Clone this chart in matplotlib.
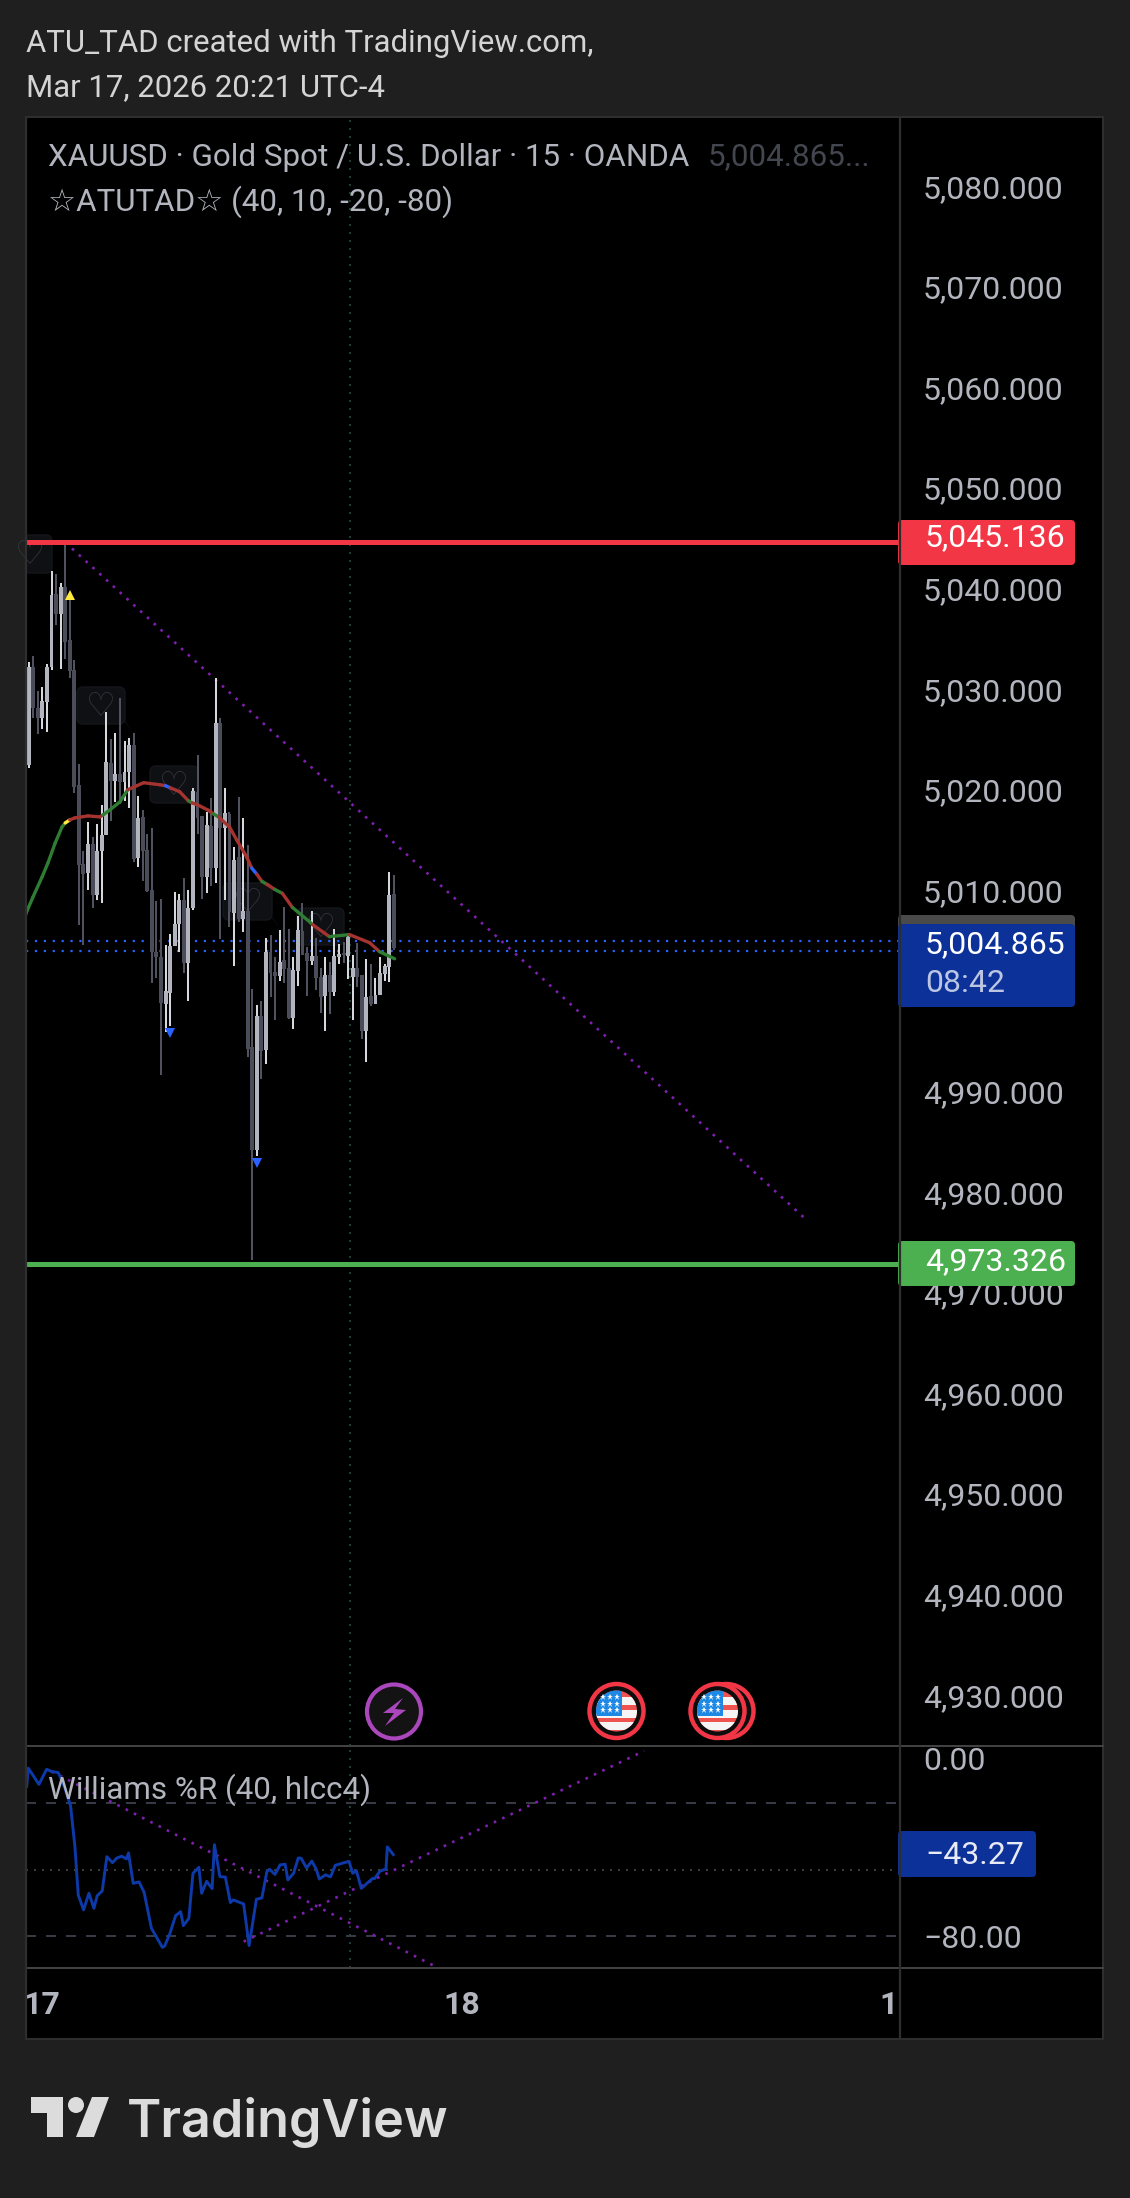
#!/usr/bin/python3
# coding: utf-8

# TradingView screenshot of XAUUSD 15m with a Williams %R pane
import matplotlib
matplotlib.use("Agg")
import matplotlib.pyplot as plt
from matplotlib.patches import Circle, Polygon, FancyBboxPatch, Rectangle
from matplotlib.transforms import ScaledTranslation

plt.rcParams["font.family"] = ["Roboto", "DejaVu Sans"]

# candles, oldest first
opens = [5023.0, 5032.7, 5028.6, 5027.6, 5029.2, 5032.7, 5040.0, 5038.0, 5040.7, 5035.4,
         5032.4, 5021.0, 5013.1, 5012.2, 5015.1, 5010.0, 5014.4, 5016.0, 5023.2, 5021.4,
         5022.1, 5021.3, 5022.3, 5024.9, 5013.7, 5017.8, 5014.5, 5010.5, 5004.4, 5003.9,
         4999.2, 5000.3, 5005.0, 5007.2, 5009.5, 5003.3, 5008.7, 5020.3, 5017.9, 5011.8,
         5016.9, 5012.7, 5027.1, 5016.7, 5018.1, 5008.2, 5013.8, 5007.7, 5008.4, 4994.9,
         4984.7, 4998.0, 4994.6, 5004.4, 5002.4, 5002.0, 5003.6, 5002.8, 4997.8, 5002.5,
         5006.5, 5004.3, 5003.5, 5004.0, 5001.9, 5000.0, 5002.1, 5000.4, 5003.9, 5004.3,
         5004.0, 5001.9, 5002.8, 5002.1, 4996.5, 5000.0, 4999.2, 5000.1, 5002.2, 5002.9,
         5010.1]
highs = [5033.2, 5033.8, 5030.3, 5030.7, 5033.0, 5042.2, 5041.9, 5041.1, 5044.9, 5039.7,
         5033.4, 5023.1, 5014.4, 5017.3, 5015.8, 5017.1, 5019.0, 5028.2, 5025.5, 5026.1,
         5029.6, 5025.3, 5025.6, 5026.1, 5019.9, 5018.5, 5016.1, 5016.7, 5009.4, 5009.6,
         5005.1, 5006.2, 5010.3, 5010.1, 5011.7, 5010.5, 5020.7, 5024.0, 5017.9, 5018.3,
         5019.7, 5031.6, 5027.6, 5020.7, 5018.3, 5014.8, 5019.8, 5017.7, 5015.0, 5000.7,
         4999.1, 4999.5, 5005.8, 5006.1, 5003.9, 5006.6, 5008.8, 5006.7, 5003.9, 5008.0,
         5009.2, 5004.9, 5008.4, 5005.8, 5002.8, 5003.9, 5003.4, 5006.7, 5005.2, 5005.4,
         5006.0, 5004.1, 5005.3, 5002.1, 5003.7, 5003.2, 5001.8, 5003.9, 5003.2, 5012.3,
         5012.0]
lows = [5022.7, 5027.6, 5026.0, 5026.5, 5026.2, 5032.4, 5036.9, 5032.5, 5033.5, 5031.6,
        5020.2, 5007.1, 5005.1, 5010.5, 5008.7, 5009.5, 5009.2, 5016.0, 5017.4, 5019.3,
        5019.1, 5019.4, 5018.7, 5013.3, 5012.8, 5011.4, 5010.3, 5001.3, 5001.8, 4992.1,
        4996.4, 4997.0, 5005.0, 5004.4, 5002.3, 4999.5, 5008.5, 5016.1, 5009.6, 5010.2,
        5010.9, 5011.2, 5005.7, 5009.5, 5006.9, 5003.0, 5007.4, 5006.4, 4993.9, 4973.8,
        4984.1, 4991.7, 4993.2, 4999.9, 4997.6, 5001.5, 5001.3, 4997.7, 4996.7, 5001.0,
        5004.1, 5000.0, 5003.1, 5000.6, 4998.3, 4996.5, 4998.2, 5000.0, 5003.2, 5003.3,
        5001.7, 4997.6, 5000.9, 4995.7, 4993.4, 4999.0, 4999.2, 5000.1, 5001.5, 5001.4,
        5004.6]
closes = [5032.7, 5028.6, 5027.6, 5029.3, 5032.7, 5039.9, 5038.0, 5040.7, 5035.2, 5032.3,
          5020.8, 5013.0, 5012.1, 5015.1, 5010.0, 5014.4, 5016.0, 5023.3, 5021.4, 5022.1,
          5021.3, 5022.3, 5024.9, 5013.6, 5017.7, 5014.4, 5010.4, 5004.4, 5003.9, 4999.3,
          5000.5, 5005.0, 5007.2, 5009.5, 5003.3, 5008.7, 5020.4, 5017.7, 5011.8, 5017.0,
          5012.7, 5027.1, 5016.7, 5018.2, 5008.3, 5013.5, 5007.7, 5008.4, 4994.7, 4984.7,
          4998.0, 4994.5, 5004.4, 5002.3, 5002.0, 5003.4, 5002.7, 4997.8, 5002.6, 5006.6,
          5004.1, 5003.5, 5004.0, 5001.8, 4999.9, 5002.1, 5000.4, 5004.0, 5004.2, 5004.1,
          5005.9, 5002.8, 5001.9, 4996.5, 4999.9, 4999.2, 5000.1, 5002.3, 5003.0, 5010.0,
          5004.8]

# ATUTAD moving average; ma_seg is the colour of the piece ending at that point
ma_bar = [-1.0, -0.6, 0.9, 2.9, 4.2, 5.8, 7.3, 8.0, 9.0, 10.1, 13.0, 15.6, 16.3, 17.8, 20.0,
          21.7, 23.7, 25.2, 28.7, 30.0, 31.0, 33.1, 35.0, 35.8, 37.0, 39.2, 40.5, 41.6, 44.0,
          45.6, 47.8, 48.9, 50.0, 51.1, 52.2, 53.9, 55.6, 57.8, 61.5, 62.2, 65.9, 70.3, 74.7,
          76.9, 80.2]
ma_price = [5007.6, 5008.2, 5009.8, 5011.8, 5013.2, 5015.2, 5016.8, 5017.2, 5017.5, 5017.7,
            5017.9, 5017.8, 5018.0, 5018.5, 5019.3, 5020.5, 5020.9, 5021.2, 5021.0, 5020.9,
            5020.7, 5020.3, 5019.4, 5019.2, 5019.0, 5018.5, 5018.1, 5017.8, 5016.8, 5015.5,
            5013.8, 5012.7, 5012.1, 5011.4, 5011.1, 5010.6, 5010.2, 5008.8, 5007.4, 5007.1,
            5005.9, 5006.1, 5005.3, 5004.4, 5003.7]
ma_seg = ["g", "g", "g", "g", "g", "g", "g", "g", "y", "r", "r", "r", "r", "g", "g",
          "g", "r", "r", "r", "r", "b", "r", "r", "g", "r", "r", "r", "g", "r",
          "r", "r", "r", "b", "r", "g", "r", "g", "r", "g", "g", "r", "g", "r",
          "r", "g"]

# Williams %R
wr_bar = [-0.44, -0.08, 2.25, 3.93, 5.03, 6.49, 7.95, 9.18, 10.13, 10.86, 12.03, 13.2, 14.29,
          15.02, 16.11, 17.13, 18.37, 19.25, 20.34, 21.44, 21.87, 22.9, 24.2, 25.3, 26.9, 29.3,
          29.8, 30.9, 32.2, 33.3, 33.9, 35.1, 36.0, 37.3, 37.9, 39.0, 40.2, 40.7, 41.9, 43.1,
          44.2, 44.8, 47.1, 48.3, 49.9, 51.1, 52.2, 52.8, 53.97, 55.1, 56.2, 56.8, 58.05, 59.07,
          59.7, 60.9, 62.05, 63.0, 63.7, 65.05, 66.15, 67.2, 68.5, 70.2, 71.0, 71.8, 72.9, 74.3,
          75.4, 75.8, 77.0, 78.3, 78.6, 79.9]
wr_value = [-12.6, -4.3, -11.6, -4.8, -5.8, -6.3, -13.4, -21.3, -39.7, -61.5, -68.2, -60.7, -67.5,
            -61.8, -59.7, -44.2, -46.9, -44.9, -44.0, -45.2, -42.5, -56.2, -55.6, -60.3, -76.5, -85.1,
            -84.5, -79.1, -70.8, -69.0, -75.3, -72.0, -51.7, -49.0, -60.7, -55.3, -58.6, -38.8, -53.2, -53.4,
            -64.9, -63.7, -65.5, -84.3, -63.4, -62.8, -50.9, -49.9, -52.2, -47.9, -47.6, -54.7, -51.7, -44.8,
            -44.9, -49.3, -46.2, -49.8, -54.3, -52.4, -53.3, -48.1, -47.3, -46.3, -51.7, -50.5, -58.5, -55.9,
            -54.0, -54.1, -50.7, -49.8, -39.8, -43.27]

# 5,000.000 is hidden behind the last price badge in the screenshot
price_ticks = [4930, 4940, 4950, 4960, 4970, 4980, 4990, 5010, 5020, 5030, 5040, 5050, 5060, 5070, 5080]
time_tick_bars = [2.9, 95.0, 188.5]
time_tick_labels = ["17", "18", "1"]
wr_ticks = [0, -80]
wr_tick_labels = ["0.00", "\u221280.00"]

resistance = 5045.136
support = 4973.326
last_price = 5004.865
last_lines = [5005.5, 5004.5]
cross_bar = 70.5

W, H = 1130, 2198
BG = "#1f1f1f"
LABEL = "#b2b5be"
SEG_COLORS = {"g": "#2e7d32", "r": "#a5332f", "y": "#ffeb3b", "b": "#2962ff"}
PURPLE = "#7f1fb0"

# pane edges in pixels
LEFT, SPLIT, RIGHT = 26, 900, 1103
TOP, MID, LOW, BOTTOM = 117, 1746, 1968, 2039


def pane(top, bottom):
    a = fig.add_axes([LEFT / W, 1 - bottom / H, (SPLIT - LEFT) / W, (bottom - top) / H])
    a.patch.set_visible(False)
    a.set_xlim(-0.59, 190.95)
    for s in a.spines.values():
        s.set_visible(False)
    a.set_zorder(1)
    return a


def px_axes(z):
    a = fig.add_axes([0, 0, 1, 1])
    a.set_xlim(0, W)
    a.set_ylim(H, 0)
    a.axis("off")
    a.patch.set_visible(False)
    a.set_zorder(z)
    return a


def bubble(a, x0, x1, y0, y1, tail_x, tail_y):
    a.add_patch(Polygon([(x1 - 3, y1 - 8), (x1, y1 - 2), (tail_x, tail_y)], color="#101115", lw=0))
    a.add_patch(FancyBboxPatch((x0 + 5, y0 + 5), x1 - x0 - 10, y1 - y0 - 10,
                               boxstyle="round,pad=5,rounding_size=6", fc="#0f1013", ec="#15161a", lw=1))
    a.text((x0 + x1) / 2, (y0 + y1) / 2, "\u2661", color="#33353c", fontsize=24,
           ha="center", va="center", family="DejaVu Sans")


def badge(a, x0, x1, y0, y1, color):
    a.add_patch(FancyBboxPatch((x0, y0 + 3), x1 - x0 - 3, y1 - y0 - 6,
                               boxstyle="round,pad=3,rounding_size=4", fc=color, ec="none"))


def flag(a, cx, cy):
    a.add_patch(Circle((cx, cy), 27, fc="#0d0d0d", ec="#f23645", lw=3.2))
    clip = Circle((cx, cy), 20.5, transform=a.transData)
    parts = [Rectangle((cx - 21, cy - 21), 42, 42, fc="#ef5350", ec="none")]
    for dy in [-13, 0, 12]:
        parts.append(Rectangle((cx - 21, cy + dy - 1), 42, 8, fc="#f5f5f5", ec="none"))
    parts.append(Rectangle((cx - 21, cy - 21), 26, 26, fc="#1e88e5", ec="none"))
    for p in parts:
        a.add_patch(p)
        p.set_clip_path(clip)
    for sx in [-14, -7, 0]:
        for sy in [-14, -7, -1]:
            a.plot(cx + sx, cy + sy, marker="*", ms=5, color="white", mew=0)


def nudge(labels, dy_px):
    # moves tick labels down by dy_px pixels
    for t in labels:
        t.set_transform(t.get_transform() + ScaledTranslation(0, -dy_px / 100, fig.dpi_scale_trans))


fig = plt.figure(figsize=(W / 100, H / 100), dpi=100, facecolor=BG)

# background layer, hearts sit under the candles
back = px_axes(0)
back.add_patch(Rectangle((LEFT, TOP), RIGHT - LEFT, BOTTOM - TOP, fc="black", ec="#2e2e2e", lw=1.5))
bubble(back, 8, 52, 535, 573, 62, 590)
bubble(back, 77, 125, 687, 724, 134, 734)
bubble(back, 150, 198, 766, 803, 207, 813)
bubble(back, 223, 272, 883, 920, 281, 930)
bubble(back, 297, 344, 908, 945, 353, 955)
back.add_patch(Rectangle((0, TOP), LEFT, 500, fc=BG, ec="none"))

# price pane
ax = pane(TOP, MID)
ax.set_ylim(4925.45, 5087.37)
ax.axvline(cross_bar, color="#1f3d36", lw=1.44, ls=(0, (1, 3)), zorder=1)
for p in last_lines:
    ax.axhline(p, color="#2962ff", lw=1.6, ls=(0, (1, 3)), zorder=2)
ax.plot([8, 170.1], [5045.1, 4977.9], color=PURPLE, lw=1.9, ls=(0, (1, 2.5)), zorder=2)

for i in range(len(opens)):
    up = closes[i] >= opens[i]
    wick = "#d6d8de" if up else "#50535f"
    body = "#b2b5be" if up else "#4a4d59"
    ax.vlines(i, lows[i], highs[i], color=wick, lw=1.44, zorder=3)
    ax.bar(i, abs(closes[i] - opens[i]), bottom=min(opens[i], closes[i]), width=0.86,
           color=body, linewidth=0, zorder=3)

for i in range(1, len(ma_bar)):
    ax.plot(ma_bar[i - 1:i + 1], ma_price[i - 1:i + 1], color=SEG_COLORS[ma_seg[i]],
            lw=2.4, solid_capstyle="round", zorder=4)

ax.plot([9], [5039.9], marker="^", ms=7, color="#ffeb3b", mew=0, zorder=5)
ax.plot([31, 50], [4996.3, 4983.4], ls="", marker="v", ms=7, color="#2962ff", mew=0, zorder=5)

ax.axhline(resistance, color="#f23645", lw=3.6, zorder=5)
ax.axhline(support, color="#4caf50", lw=3.6, zorder=5)

ax.yaxis.tick_right()
ax.set_yticks(price_ticks)
ax.set_yticklabels([f"{p:,.3f}" for p in price_ticks], fontsize=23, color=LABEL, va="center")
ax.tick_params(axis="y", length=0, pad=16.5)
ax.set_xticks([])
nudge(ax.get_yticklabels(), -2)

# Williams %R pane
ax2 = pane(MID, LOW)
ax2.set_ylim(-94.4, 5.7)
ax2.axvline(cross_bar, color="#1f3d36", lw=1.44, ls=(0, (1, 3)), zorder=1)
ax2.axhline(-20, color="#363a45", lw=1.44, ls=(0, (5, 5)), zorder=1)
ax2.axhline(-80, color="#363a45", lw=1.44, ls=(0, (5, 5)), zorder=1)
ax2.axhline(-50, color="#3c3c3c", lw=1.44, ls=(0, (1, 3)), zorder=1)
ax2.plot([5.0, 88.9], [-5.8, -93.5], color=PURPLE, lw=1.9, ls=(0, (1, 2.5)), zorder=2)
ax2.plot([47.1, 134.9], [-82.5, 3.5], color=PURPLE, lw=1.9, ls=(0, (1, 2.5)), zorder=2)
ax2.plot(wr_bar, wr_value, color="#0d3aa8", lw=2.1, zorder=3)
ax2.yaxis.tick_right()
ax2.set_yticks(wr_ticks)
ax2.set_yticklabels(wr_tick_labels, fontsize=23, color=LABEL, va="center")
ax2.tick_params(axis="y", length=0, pad=16.5)
ax2.set_xticks(time_tick_bars)
ax2.set_xticklabels(time_tick_labels, fontsize=23, color=LABEL, fontweight="bold")
ax2.tick_params(axis="x", length=0, pad=16)
nudge(ax2.get_yticklabels(), 3)

# lines, badges and text on top
top = px_axes(2)
top.plot([LEFT, RIGHT], [MID, MID], color="#434343", lw=1.4)
top.plot([LEFT, RIGHT], [LOW, LOW], color="#434343", lw=1.4)
top.plot([SPLIT, SPLIT], [TOP, BOTTOM], color="#2e2e2e", lw=1.6)
top.plot([LEFT, LEFT], [TOP, BOTTOM], color="#2e2e2e", lw=1.6)

badge(top, 901, 1075, 520, 565, "#f23645")
top.text(925, 538, f"{resistance:,.3f}", color="white", fontsize=23, va="center")
badge(top, 901, 1075, 1241, 1286, "#4caf50")
top.text(925, 1262, f"{support:,.3f}", color="white", fontsize=23, va="center")
badge(top, 901, 1075, 915, 1000, "#4a4a4a")
badge(top, 901, 1075, 924, 1007, "#0c3299")
top.text(925, 945, f"{last_price:,.3f}", color="white", fontsize=23, va="center")
top.text(925, 984, "08:42", color="#bcc6e2", fontsize=23, va="center")
badge(top, 901, 1036, 1831, 1877, "#0c3299")
top.text(925, 1856, "\u221243.27", color="#e8ebf5", fontsize=23, va="center")

top.text(26, 43, "ATU_TAD created with TradingView.com,", color="#d4d4d4", fontsize=22.45, va="center")
top.text(26, 88, "Mar 17, 2026 20:21 UTC-4", color="#d4d4d4", fontsize=22.45, va="center")
top.text(48, 157, "XAUUSD \u00b7 Gold Spot / U.S. Dollar \u00b7 15 \u00b7 OANDA", color=LABEL, fontsize=22.6, va="center")
top.text(708, 157, "5,004.865...", color="#44464f", fontsize=22.6, va="center")
top.text(48, 202, "\u2606ATUTAD\u2606 (40, 10, -20, -80)", color=LABEL, fontsize=22.6, va="center")
top.text(48, 1790, "Williams %R (40, hlcc4)", color=LABEL, fontsize=22.6, va="center")

# event markers
top.add_patch(Circle((394, 1711.5), 27, fc="#131313", ec="#ab47bc", lw=3))
top.add_patch(Polygon([(403, 1698), (383, 1713), (394, 1713), (385, 1726), (406, 1710), (395, 1709)],
                      fc="#ab47bc", ec="none"))
top.add_patch(Circle((726.5, 1711), 27, fc="#0d0d0d", ec="#f23645", lw=3.2))
flag(top, 616.5, 1711)
flag(top, 717.5, 1711)

# logo
logo = "#dcdcdc"
top.add_patch(Polygon([(31, 2097), (63, 2097), (63, 2137), (47, 2137), (47, 2113), (31, 2113)], fc=logo, ec="none"))
top.add_patch(Circle((76, 2105), 8, fc=logo, ec="none"))
top.add_patch(Polygon([(92, 2097), (109, 2097), (94, 2137), (76, 2137)], fc=logo, ec="none"))
top.text(127, 2137, "TradingView", color=logo, fontsize=37.5, fontweight="semibold", family="Inter",
         ha="left", va="baseline")

fig.savefig("out.png", dpi=100, facecolor=BG)
